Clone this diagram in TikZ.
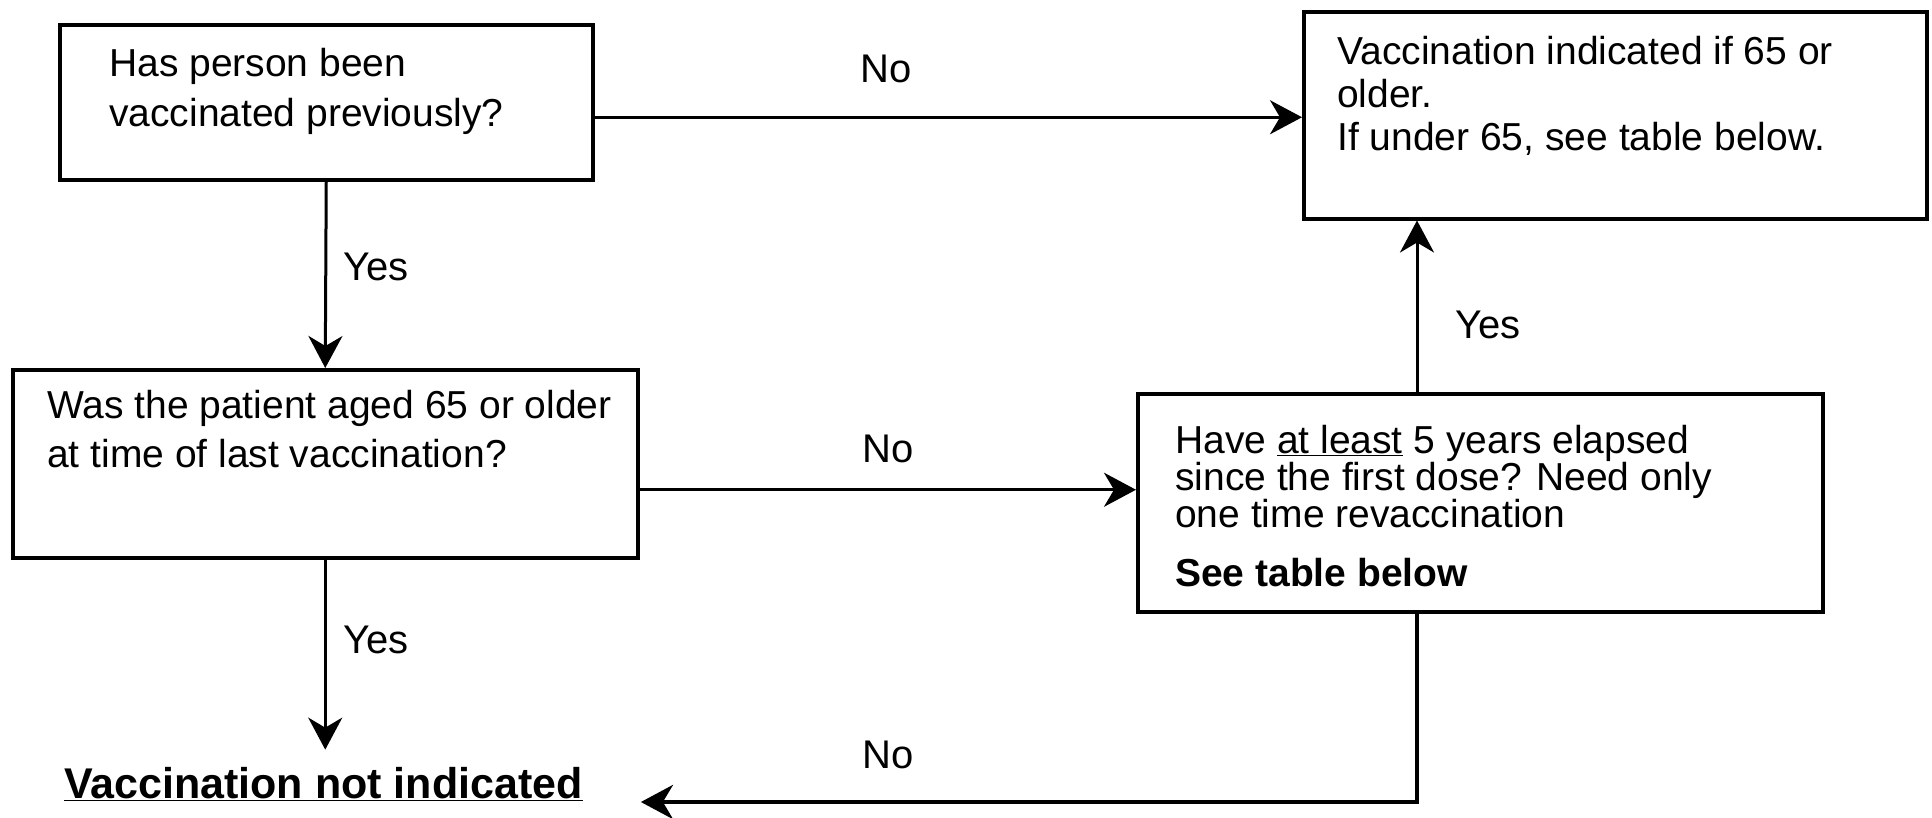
\documentclass[tikz,border=0pt]{standalone}
\usepackage{fontspec}
\setmainfont{Liberation Sans}
\usetikzlibrary{arrows.meta}
\begin{document}
\begin{tikzpicture}[x=1pt,y=-1pt,
  box/.style={draw, line width=3.5pt, rectangle, inner sep=0pt, anchor=north west},
  txt/.style={inner sep=0pt, anchor=base west, font=\fontsize{39}{44}\selectfont},
  lbl/.style={inner sep=0pt, anchor=base west, font=\fontsize{40}{44}\selectfont},
  tip/.style={-{Stealth[length=32pt,width=34pt,inset=10pt]}},
  arr/.style={line width=3pt, tip},
]
\useasboundingbox (0,0) rectangle (1932,817);
% boxes
\node[box, minimum width=533pt, minimum height=155pt] (q1) at (58,23) {};
\node[box, minimum width=623pt, minimum height=207pt] (r1) at (1302,10) {};
\node[box, minimum width=625pt, minimum height=188pt] (q2) at (11,368) {};
\node[box, minimum width=685pt, minimum height=218pt] (q3) at (1136,392) {};
% box texts
\node[txt] (q1t) at (109,76) {\vtop{\baselineskip=50pt\hbox{Has person been}\hbox{vaccinated previously?}}};
\node[txt] (r1t) at (1337,64) {\vtop{\baselineskip=43pt\hbox{Vaccination indicated if 65 or}\hbox{older.}\hbox{If under 65, see table below.}}};
\node[txt] (q2t) at (47,418) {\vtop{\baselineskip=49pt\hbox{Was the patient aged 65 or older}\hbox{at time of last vaccination?}}};
\node[txt] (q3t) at (1175,453) {\vtop{\baselineskip=37pt\hbox{Have \underline{at least} 5 years elapsed}\hbox{since the first dose? Need only}\hbox{one time revaccination}\vskip 22pt\hbox{\bfseries See table below}}};
\node[inner sep=0pt, anchor=base west, font=\fontsize{43}{44}\selectfont\bfseries] (ni) at (64,798) {\underline{Vaccination not indicated}};
% connectors
\coordinate (vx) at (1417,0);
\draw[arr] ([yshift=-15pt]q1.east) -- ([yshift=-15pt]q1.east -| r1.west);
\draw[arr] (q1.south) -- (q2.north);
\draw[arr] ([yshift=-26pt]q2.east) -- ([yshift=-26pt]q2.east -| q3.west);
\draw[arr] (q3.north -| vx) -- (r1.south -| vx);
\draw[arr, shorten >=17pt] (q2.south) -- (ni.north -| q2.south);
\draw[line width=4.5pt, tip] (q3.south -| vx) |- ([xshift=58pt,yshift=-4pt]ni.base east);
% labels
\node[lbl] (no1) at (860,82) {No};
\node[lbl] (yes1) at (343,280) {Yes};
\node[lbl] (no2) at (862,462) {No};
\node[lbl] (yes2) at (1455,338) {Yes};
\node[lbl] (yes3) at (343,653) {Yes};
\node[lbl] (no3) at (862,768) {No};
\end{tikzpicture}
\end{document}
